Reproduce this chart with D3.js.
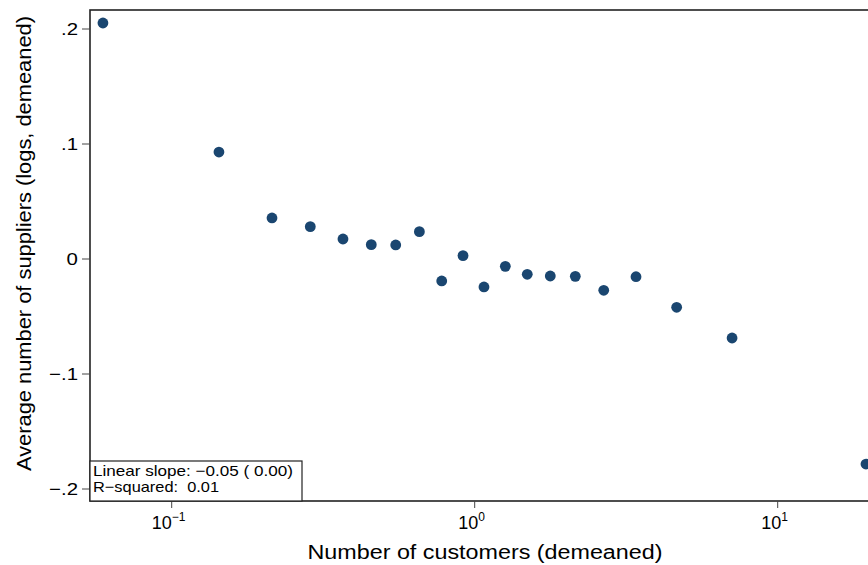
<!DOCTYPE html>
<html><head><meta charset="utf-8">
<script src="https://cdn.jsdelivr.net/npm/d3@7"></script>
<style>body{margin:0;background:#fff}svg{display:block}text{font-family:"Liberation Sans",Arial,sans-serif;fill:#000;white-space:pre}</style>
</head><body><svg id="c" width="868" height="565"></svg>
<script>
const xValues = [0.0593,0.1432,0.2143,0.2867,0.3675,0.4557,0.5487,0.6568,0.7783,0.915,1.073,1.262,1.491,1.776,2.148,2.666,3.407,4.64,7.07,19.56];
const yValues = [0.2052,0.093,0.0357,0.0281,0.0174,0.0125,0.0122,0.0238,-0.0191,0.0029,-0.0243,-0.0064,-0.0133,-0.0148,-0.0151,-0.0272,-0.0154,-0.042,-0.0687,-0.1783];
const yTicks = [0.2,0.1,0,-0.1,-0.2];
const yTickLabels = [".2",".1","0","\u2212.1","\u2212.2"];
const xTicks = [0.1,1,10];
const xTickExps = ["\u22121","0","1"];
const legendLines = ["Linear slope: \u22120.05 ( 0.00)","R\u2212squared:  0.01"];

const svg = d3.select("#c");
const L=90, T=10, R=872, B=501;
const x = d3.scaleLog().domain([Math.pow(10,-1-81.7/303), Math.pow(10,1+94.3/303)]).range([L,R]);
const y = d3.scaleLinear().domain([-0.2-12/1150, 0.2+19/1150]).range([B,T]);

function stretch(t, f){ const n=t.node(); const w=n.getComputedTextLength(); t.attr("textLength",w*f).attr("lengthAdjust","spacingAndGlyphs"); }

svg.append("rect").attr("x",L).attr("y",T).attr("width",R-L).attr("height",B-T)
  .attr("fill","none").attr("stroke","#222").attr("stroke-width",1.6);

// y axis
const ya = svg.append("g");
yTicks.forEach((v,i)=>{
  ya.append("line").attr("x1",L-8).attr("x2",L).attr("y1",y(v)).attr("y2",y(v)).attr("stroke","#444").attr("stroke-width",1);
  const t = ya.append("text").attr("x",L-12).attr("y",y(v)).attr("dy","0.36em").attr("text-anchor","end").attr("font-size",17).text(yTickLabels[i]);
  stretch(t,1.2);
});
// x axis
const xa = svg.append("g");
xTicks.forEach((v,i)=>{
  xa.append("line").attr("x1",x(v)).attr("x2",x(v)).attr("y1",B).attr("y2",B+7).attr("stroke","#444").attr("stroke-width",1);
  const t = xa.append("text").attr("x",x(v)-3).attr("y",B+28).attr("text-anchor","middle").attr("font-size",18);
  t.append("tspan").text("10");
  t.append("tspan").attr("dy",-8).attr("font-size",12).text(xTickExps[i]);
});

const yt = svg.append("text").attr("transform",`translate(31,${(T+B)/2-12}) rotate(-90)`).attr("text-anchor","middle").attr("font-size",19.5)
  .text("Average number of suppliers (logs, demeaned)");
stretch(yt, 455/yt.node().getComputedTextLength());
const xt = svg.append("text").attr("x",485).attr("y",559).attr("text-anchor","middle").attr("font-size",19.5)
  .text("Number of customers (demeaned)");
stretch(xt, 355/xt.node().getComputedTextLength());

const plot = svg.append("g");
plot.selectAll("circle").data(xValues).join("circle")
  .attr("cx",(d)=>x(d)).attr("cy",(d,i)=>y(yValues[i])).attr("r",5.4).attr("fill","#1a4670");

// legend box
const lg = svg.append("g");
lg.append("rect").attr("x",L).attr("y",461).attr("width",212).attr("height",B-461).attr("fill","#fff").attr("stroke","#222").attr("stroke-width",1.2);
const widths=[200,126];
legendLines.forEach((s,i)=>{
  const t = lg.append("text").attr("x",L+3).attr("y",476+i*15.5).attr("font-size",15).text(s);
  stretch(t, widths[i]/t.node().getComputedTextLength());
});
</script></body></html>
